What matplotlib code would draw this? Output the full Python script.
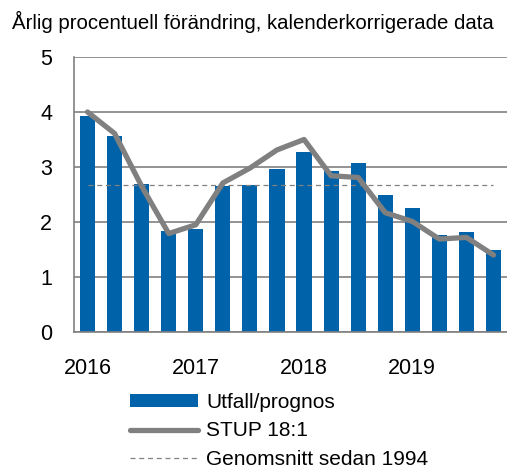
import matplotlib
matplotlib.use('Agg')
import matplotlib.pyplot as plt
import numpy as np

plt.rcParams['font.family'] = ['Liberation Sans', 'DejaVu Sans']

# quarterly data 2016 Q1 - 2019 Q4
utfall = [3.93, 3.56, 2.70, 1.84, 1.88, 2.66, 2.67, 2.96,
          3.28, 2.93, 3.07, 2.49, 2.26, 1.76, 1.81, 1.49]
stup = [4.00, 3.61, 2.65, 1.79, 1.95, 2.71, 2.98, 3.31,
        3.50, 2.84, 2.81, 2.17, 2.01, 1.69, 1.72, 1.40]
snitt = 2.67
years = ['2016', '2017', '2018', '2019']

blue = '#0062a8'
grey = '#808080'

fig = plt.figure(figsize=(5.07, 4.68), dpi=100)
ax = fig.add_axes([74/507, 1-332/468, 433/507, 275/468])

x = np.arange(len(utfall))
bars = ax.bar(x, utfall, width=0.56, color=blue, label='Utfall/prognos', zorder=2)
line, = ax.plot(x, stup, color=grey, lw=3.8, solid_capstyle='round', label='STUP 18:1', zorder=3)
dash, = ax.plot([x[0], x[-1]], [snitt, snitt], color=grey, lw=0.9, ls=(0, (4, 3)),
                label='Genomsnitt sedan 1994', zorder=3)

ax.set_xlim(-0.5, len(utfall) - 0.5)
ax.set_ylim(0, 5)
ax.set_yticks(range(6))
ax.yaxis.grid(True, color=grey, lw=1.2, zorder=0)
ax.set_xticks([0, 4, 8, 12])
ax.set_xticklabels(years)
ax.tick_params(axis='both', length=0, labelsize=15.5, colors='black')
ax.tick_params(axis='x', pad=19)
ax.tick_params(axis='y', pad=20)
for t in ax.get_yticklabels():
    t.set_horizontalalignment('center')
for s in ['top', 'right']:
    ax.spines[s].set_visible(False)
for s in ['left', 'bottom']:
    ax.spines[s].set_color(grey)
    ax.spines[s].set_linewidth(1.2)

fig.text(12/507, 1-22/468, 'Årlig procentuell förändring, kalenderkorrigerade data',
         fontsize=14.7, va='center', ha='left')

fig.legend([bars, line, dash], ['Utfall/prognos', 'STUP 18:1', 'Genomsnitt sedan 1994'],
           loc='upper left', bbox_to_anchor=(130/507, 1-393/468),
           frameon=False, fontsize=15, handlelength=3.27, handleheight=0.55,
           labelspacing=0.45, handletextpad=0.4, borderpad=0, borderaxespad=0)

fig.savefig('out.png', dpi=100)
